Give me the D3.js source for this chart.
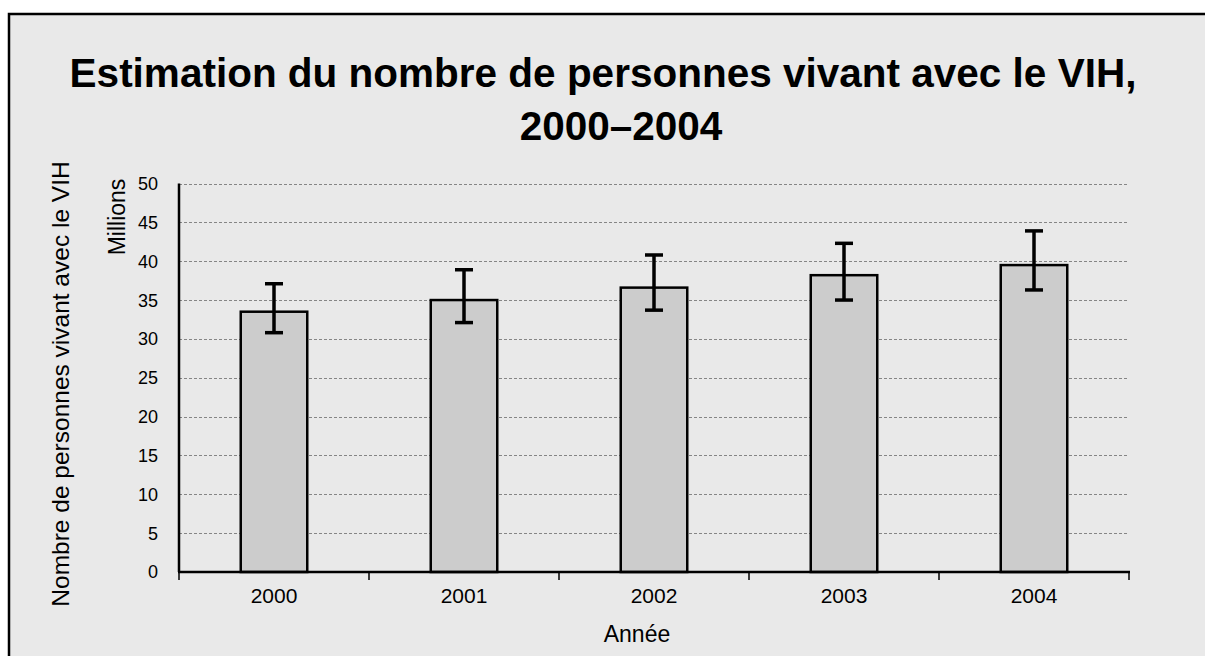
<!DOCTYPE html>
<html lang="fr">
<head>
  <meta charset="UTF-8">
  <title>Estimation du nombre de personnes vivant avec le VIH</title>
  <script src="https://cdnjs.cloudflare.com/ajax/libs/d3/7.8.5/d3.min.js"></script>
  <style>
    * { margin: 0; }
    body { background: #fff; font-family: "Liberation Sans", Arial, Helvetica, sans-serif; }
    svg { display: block; }
    .grid line { stroke: #858585; stroke-width: 1; stroke-dasharray: 3 2; }
    .ylbl { font-size: 18px; fill: #000; }
    .xlbl { font-size: 21px; fill: #000; }
    .ttl { font-size: 23px; fill: #000; }
  </style>
</head>
<body>
  <div id="chart"></div>
  <script>
    const years = ['2000', '2001', '2002', '2003', '2004'];
    const estimates = [33.5, 35.0, 36.6, 38.2, 39.5];
    const lows = [30.8, 32.1, 33.7, 35.0, 36.3];
    const highs = [37.1, 38.9, 40.8, 42.3, 43.9];
    const yTicks = [0, 5, 10, 15, 20, 25, 30, 35, 40, 45, 50];

    const width = 1205, height = 656;
    const plot = { left: 179, right: 1129, top: 183.5, bottom: 572 };

    const svg = d3.select('#chart')
      .append('svg')
      .attr('width', width)
      .attr('height', height);

    // chart frame
    svg.append('rect')
      .attr('x', 9).attr('y', 14)
      .attr('width', 1210).attr('height', 660)
      .attr('fill', '#e9e9e9')
      .attr('stroke', '#000')
      .attr('stroke-width', 2.5);

    const x = d3.scaleBand()
      .domain(years)
      .range([plot.left, plot.right]);

    const y = d3.scaleLinear()
      .domain([0, 50])
      .range([plot.bottom, plot.top]);

    // grid
    svg.append('g')
      .attr('class', 'grid')
      .selectAll('line')
      .data(yTicks.filter(d => d > 0))
      .join('line')
      .attr('x1', plot.left).attr('x2', plot.right)
      .attr('y1', d => Math.round(y(d)) + 0.5)
      .attr('y2', d => Math.round(y(d)) + 0.5);

    // y tick labels
    svg.append('g')
      .selectAll('text')
      .data(yTicks)
      .join('text')
      .attr('class', 'ylbl')
      .attr('x', 158)
      .attr('y', d => y(d))
      .attr('dy', '0.36em')
      .attr('text-anchor', 'end')
      .text(d => d);

    const data = years.map((yr, i) => ({ yr, v: estimates[i], lo: lows[i], hi: highs[i] }));
    const barW = x.bandwidth() * 0.35;

    // bars
    svg.append('g')
      .selectAll('rect')
      .data(data)
      .join('rect')
      .attr('x', d => x(d.yr) + (x.bandwidth() - barW) / 2)
      .attr('y', d => y(d.v))
      .attr('width', barW)
      .attr('height', d => y(0) - y(d.v))
      .attr('fill', '#cccccc')
      .attr('stroke', '#000')
      .attr('stroke-width', 2.5);

    // error bars
    const err = svg.append('g')
      .attr('stroke', '#000')
      .selectAll('g')
      .data(data)
      .join('g')
      .attr('transform', d => `translate(${x(d.yr) + x.bandwidth() / 2},0)`);
    err.append('line')
      .attr('y1', d => y(d.lo)).attr('y2', d => y(d.hi))
      .attr('stroke-width', 3.5);
    err.append('line')
      .attr('x1', -9).attr('x2', 9)
      .attr('y1', d => y(d.hi)).attr('y2', d => y(d.hi))
      .attr('stroke-width', 3.5);
    err.append('line')
      .attr('x1', -9).attr('x2', 9)
      .attr('y1', d => y(d.lo)).attr('y2', d => y(d.lo))
      .attr('stroke-width', 3.5);

    // axes lines
    svg.append('line')
      .attr('x1', plot.left).attr('x2', plot.left)
      .attr('y1', plot.top).attr('y2', plot.bottom)
      .attr('stroke', '#000').attr('stroke-width', 2.5);
    svg.append('line')
      .attr('x1', plot.left - 1).attr('x2', plot.right + 1)
      .attr('y1', plot.bottom).attr('y2', plot.bottom)
      .attr('stroke', '#000').attr('stroke-width', 2.5);

    // x ticks at category boundaries
    const bounds = years.map(d => x(d)).concat([plot.right]);
    svg.append('g')
      .selectAll('line')
      .data(bounds)
      .join('line')
      .attr('x1', d => d).attr('x2', d => d)
      .attr('y1', plot.bottom).attr('y2', plot.bottom + 8)
      .attr('stroke', '#000').attr('stroke-width', 1.5);

    // x labels
    svg.append('g')
      .selectAll('text')
      .data(years)
      .join('text')
      .attr('class', 'xlbl')
      .attr('x', d => x(d) + x.bandwidth() / 2)
      .attr('y', 603)
      .attr('text-anchor', 'middle')
      .text(d => d);

    // axis titles
    svg.append('text')
      .attr('class', 'ttl')
      .attr('x', 637).attr('y', 642)
      .attr('text-anchor', 'middle')
      .text('Année');

    svg.append('text')
      .attr('class', 'ttl')
      .attr('transform', 'translate(125,217) rotate(-90)')
      .attr('text-anchor', 'middle')
      .text('Millions');

    svg.append('text')
      .attr('class', 'ttl')
      .attr('font-size', 24.5)
      .style('font-size', '24.5px')
      .attr('transform', 'translate(69,384) rotate(-90)')
      .attr('text-anchor', 'middle')
      .text('Nombre de personnes vivant avec le VIH');

    // title
    const title = svg.append('text')
      .attr('text-anchor', 'middle')
      .attr('font-size', 40.5)
      .attr('font-weight', 'bold');
    title.append('tspan').attr('x', 603).attr('y', 87)
      .text('Estimation du nombre de personnes vivant avec le VIH,');
    title.append('tspan').attr('x', 621).attr('y', 140)
      .text('2000–2004');
  </script>
</body>
</html>
